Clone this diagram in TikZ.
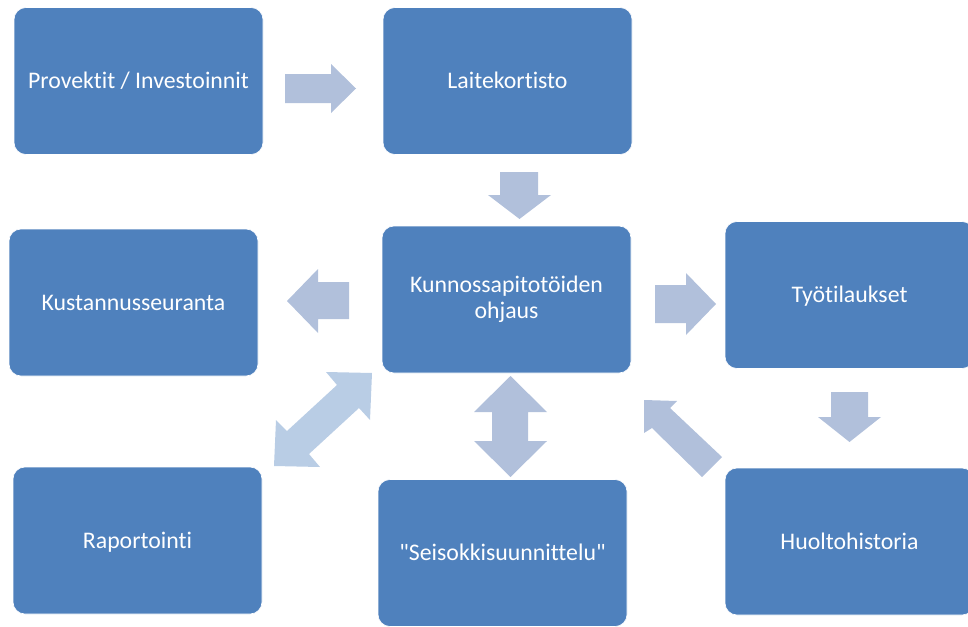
\documentclass[tikz,border=0pt]{standalone}
\usepackage{fontspec}
\newfontfamily\cfont{Carlito}[Ligatures=NoCommon]
\definecolor{boxblue}{HTML}{4F81BD}
\definecolor{arrowblue}{HTML}{B1C0DB}
\definecolor{arrowlight}{HTML}{B9CDE5}
\begin{document}
\begin{tikzpicture}[x=1pt,y=-1pt,
  card/.style={draw=white, line width=0.6pt, fill=boxblue, rounded corners=12pt,
    text=white, font=\cfont\fontsize{23.8}{26}\selectfont, inner sep=0pt, align=center,
    minimum width=249pt, minimum height=147pt},
  oneline/.style={text height=15.4pt, text depth=0pt},
  blockarrow/.style={fill=arrowblue, draw=none},
  blockarrowlight/.style={fill=arrowlight, draw=none}]
\useasboundingbox (0,0) rectangle (968,626);
\clip (0,0) rectangle (968,626);

% boxes
\node[card, oneline] (proj) at (138.5,81) {Provektit / Investoinnit};
\node[card, oneline] (laite) at (507.5,81) {Laitekortisto};
\node[card, oneline] (kust) at (133.5,302.5) {Kustannusseuranta};
\node[card] (ohj) at (506.5,299.5) {Kunnossapitotöiden\\ohjaus};
\node[card, oneline] (tyo) at (849.5,295) {Työtilaukset};
\node[card, oneline] (rap) at (137.5,540.5) {Raportointi};
\node[card, oneline] (seis) at (502.5,553) {"Seisokkisuunnittelu"};
\node[card, oneline] (huolto) at (849.5,541.5) {Huoltohistoria};

% block arrows
% Provektit -> Laitekortisto
\fill[blockarrow] (285,74) -- (331,74) -- (331,64) -- (356,88.5) -- (331,113) -- (331,103) -- (285,103) -- cycle;
% Laitekortisto -> ohjaus
\fill[blockarrow] (500,172) -- (538,172) -- (538,195) -- (551,195) -- (519.5,219) -- (488,195) -- (500,195) -- cycle;
% ohjaus -> Kustannusseuranta
\fill[blockarrow] (349,282) -- (318,282) -- (318,269) -- (287,301) -- (318,333) -- (318,319) -- (349,319) -- cycle;
% ohjaus -> Tyotilaukset
\fill[blockarrow] (655,285) -- (686,285) -- (686,273) -- (716,304) -- (686,335) -- (686,323) -- (655,323) -- cycle;
% Tyotilaukset -> Huoltohistoria
\fill[blockarrow] (831,392) -- (868,392) -- (868,417) -- (881,417) -- (849.5,442) -- (818,417) -- (831,417) -- cycle;
% ohjaus <-> Seisokkisuunnittelu
\fill[blockarrow] (510.5,376) -- (547,412) -- (528,412) -- (528,441) -- (547,441) -- (510.5,477)
  -- (474,441) -- (492,441) -- (492,412) -- (474,412) -- cycle;
% ohjaus <-> Raportointi
\fill[blockarrowlight] (372,373) -- (326,372) -- (337,385) -- (287,431) -- (276,420) -- (274,466)
  -- (320,467) -- (309,454) -- (359,408) -- (370,420) -- cycle;
% Huoltohistoria -> ohjaus
\fill[blockarrow] (644,400) -- (677,401) -- (670,408) -- (722,457) -- (702,477) -- (652,428) -- (644,433) -- cycle;
\end{tikzpicture}
\end{document}
